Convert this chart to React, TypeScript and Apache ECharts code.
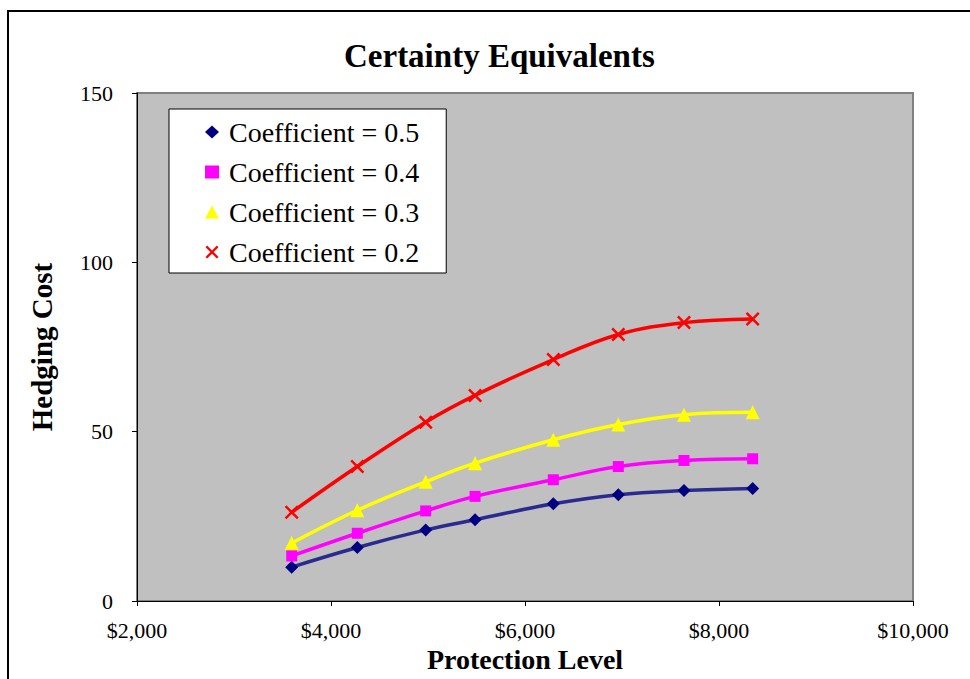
import React, { useEffect, useRef } from "react";
import * as echarts from "echarts";

const protectionLevels = [3595, 4271, 4976, 5485, 6292, 6962, 7639, 8347];
const coef05 = [10.0, 15.8, 21.0, 24.0, 28.7, 31.4, 32.6, 33.2];
const coef04 = [13.3, 20.0, 26.6, 30.9, 35.8, 39.7, 41.5, 42.0];
const coef03 = [17.1, 26.8, 35.2, 40.7, 47.6, 52.1, 55.0, 55.7];
const coef02 = [26.2, 39.7, 52.8, 60.7, 71.3, 78.7, 82.2, 83.3];
const seriesNames = ["Coefficient = 0.5", "Coefficient = 0.4", "Coefficient = 0.3", "Coefficient = 0.2"];

const FONT = "'Liberation Serif', 'Times New Roman', serif";
const X_ICON =
  "path://M0,1.5 L1.5,0 L6,4.5 L10.5,0 L12,1.5 L7.5,6 L12,10.5 L10.5,12 L6,7.5 L1.5,12 L0,10.5 L4.5,6 Z";

export default function App() {
  const ref = useRef<HTMLDivElement>(null);
  useEffect(() => {
    if (!ref.current) return;
    const chart = echarts.init(ref.current, null, { renderer: "svg" });
    const pairs = (ys: number[]) => protectionLevels.map((x, i) => [x, ys[i]]);
    const mk = (
      name: string,
      ys: number[],
      lineColor: string,
      markColor: string,
      symbol: string,
      size: number
    ) => ({
      type: "line",
      name,
      data: pairs(ys),
      smooth: 0.4,
      symbol,
      symbolSize: size,
      showSymbol: true,
      lineStyle: { color: lineColor, width: 3.5 },
      itemStyle: { color: markColor, borderWidth: 0 },
      emphasis: { disabled: true },
    });
    chart.setOption({
      animation: false,
      backgroundColor: "#ffffff",
      title: {
        text: "Certainty Equivalents",
        left: 339,
        top: 34,
        textStyle: { fontFamily: FONT, fontSize: 33, fontWeight: "bold", color: "#000" },
      },
      graphic: [
        {
          type: "rect",
          shape: { x: 8, y: 11, width: 990, height: 720 },
          style: { fill: "none", stroke: "#000", lineWidth: 2 },
          silent: true,
          z: 100,
        },
      ],
      legend: {
        orient: "vertical",
        left: 169,
        top: 109,
        padding: [9, 27, 7, 36],
        itemWidth: 14,
        itemHeight: 13,
        itemGap: 12,
        backgroundColor: "#ffffff",
        borderColor: "#000000",
        borderWidth: 1,
        borderRadius: 0,
        selectedMode: false,
        textStyle: { fontFamily: FONT, fontSize: 28, color: "#000", lineHeight: 28, padding: [0, 0, 0, 5] },
        data: [
          { name: seriesNames[0], icon: "diamond" },
          { name: seriesNames[1], icon: "rect" },
          { name: seriesNames[2], icon: "triangle" },
          { name: seriesNames[3], icon: X_ICON },
        ],
      },
      grid: {
        left: 137,
        top: 93,
        right: 57,
        bottom: 78,
        show: true,
        backgroundColor: "#C0C0C0",
        borderColor: "#808080",
        borderWidth: 2,
      },
      xAxis: {
        type: "value",
        min: 2000,
        max: 10000,
        interval: 2000,
        name: "Protection Level",
        nameLocation: "middle",
        nameGap: 43,
        nameTextStyle: { fontFamily: FONT, fontSize: 28, fontWeight: "bold", color: "#000" },
        axisLine: { show: true, onZero: false, lineStyle: { color: "#000", width: 1 } },
        axisTick: { show: true, inside: false, length: 5, lineStyle: { color: "#000" } },
        splitLine: { show: false },
        axisLabel: {
          fontFamily: FONT,
          fontSize: 22,
          color: "#000",
          margin: 18,
          formatter: (v: number) => "$" + v.toLocaleString("en-US"),
        },
      },
      yAxis: {
        type: "value",
        min: 0,
        max: 150,
        interval: 50,
        name: "Hedging Cost",
        nameLocation: "middle",
        nameGap: 81,
        nameRotate: 90,
        nameTextStyle: { fontFamily: FONT, fontSize: 29, fontWeight: "bold", color: "#000" },
        axisLine: { show: true, onZero: false, lineStyle: { color: "#000", width: 1 } },
        axisTick: { show: true, inside: false, length: 5, lineStyle: { color: "#000" } },
        splitLine: { show: false },
        axisLabel: { fontFamily: FONT, fontSize: 22, color: "#000", margin: 24 },
      },
      series: [
        mk(seriesNames[0], coef05, "#2a2a90", "#000080", "diamond", 13),
        mk(seriesNames[1], coef04, "#FF00FF", "#FF00FF", "rect", 11),
        mk(seriesNames[2], coef03, "#FFFF00", "#FFFF00", "triangle", 14),
        mk(seriesNames[3], coef02, "#FF0000", "#FF0000", X_ICON, 14),
      ],
    });
    return () => chart.dispose();
  }, []);
  return (
    <div
      ref={ref}
      style={{ position: "fixed", left: 0, top: 0, width: 970, height: 679, background: "#fff" }}
    />
  );
}
